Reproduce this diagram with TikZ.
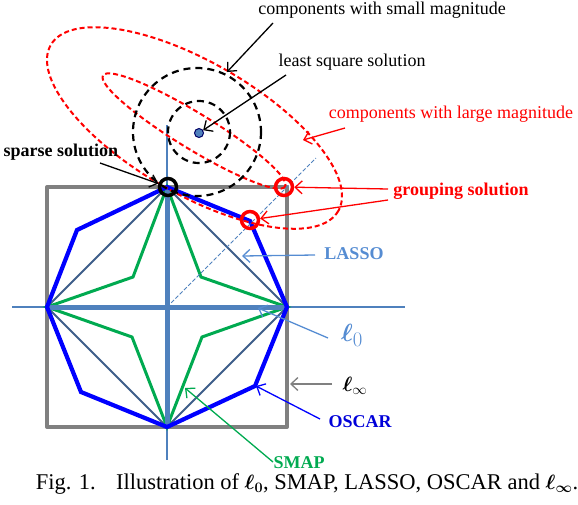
\documentclass[tikz,border=0pt]{standalone}
\usepackage{amsmath}
\usepackage{bm}
\usepackage{fontspec}
\setmainfont{Liberation Serif}
\usetikzlibrary{arrows.meta}
\definecolor{axisblue}{RGB}{79,129,189}
\definecolor{lassoline}{RGB}{62,94,138}
\definecolor{oscarblue}{RGB}{0,0,255}
\definecolor{smapgreen}{RGB}{0,170,80}
\definecolor{sqgray}{RGB}{128,128,128}
\definecolor{lblue}{RGB}{85,140,210}
\begin{document}
\begin{tikzpicture}[x=1pt,y=-1pt,
  arr/.style={-{Straight Barb[length=7pt,width=13pt]}, line width=1.3pt},
  lab/.style={font=\fontsize{18}{20}\selectfont, inner sep=0pt},
  blab/.style={font=\fontsize{18}{20}\selectfont\bfseries, inner sep=0pt},
  bdash/.style={draw=black, line width=2.2pt, dash pattern=on 7pt off 5pt},
  rdash/.style={draw=red, line width=2pt, dash pattern=on 5pt off 3pt},
  ringmark/.style={circle, line width=3.5pt, minimum size=17pt, inner sep=0pt}]
\useasboundingbox (0,0) rectangle (578,504);

% key points
\coordinate (C) at (167,307);
\coordinate (T) at (167,187);
\coordinate (B) at (167,427);
\coordinate (L) at (47,307);
\coordinate (R) at (287,307);

% l_infinity square
\draw[sqgray, line width=4pt, line join=round] (47,187) rectangle (287,427);

% thin axes
\draw[axisblue, line width=1.5pt] (12,307) -- (405,307);
\draw[axisblue, line width=1.5pt] (167,125) -- (167,460);

% LASSO diamond
\draw[lassoline, line width=2pt, line join=round] (T) -- (R) -- (B) -- (L) -- cycle;

% SMAP star
\draw[smapgreen, line width=3pt, line join=miter]
  (T) -- (201,277) -- (R) -- (202,337) -- (B) -- (132,337) -- (L) -- (133,277) -- cycle;

% l0 thick cross
\draw[axisblue, line width=5pt] (L) -- (R);
\draw[axisblue, line width=5pt] (T) -- (B);

% OSCAR octagon
\draw[oscarblue, line width=4.2pt, line join=miter]
  (T) -- (250,221) -- (R) -- (255,386) -- (B) -- (81,392) -- (L) -- (77,230) -- cycle;

% diagonal dashed line
\draw[axisblue, line width=1pt, dash pattern=on 4pt off 2pt] (C) -- (316,158);

% red ellipses
\draw[rdash, rotate around={-30:(194.5,128)}] (194.5,128) ellipse [x radius=166, y radius=66];
\draw[rdash, rotate around={-31.4:(194,131)}] (194,131) ellipse [x radius=106.6, y radius=18];

% black dashed circles
\draw[bdash] (197,132) circle [radius=64];
\draw[bdash] (199,132) circle [radius=31];

% markers
\node[circle, fill=axisblue, draw=black!60!blue, line width=1pt, minimum size=9pt, inner sep=0pt] (lss) at (199,133) {};
\node[ringmark, draw=black] (sps) at (168,187) {};
\node[ringmark, draw=red] (gs1) at (284,187) {};
\node[ringmark, draw=red] (gs2) at (250,220) {};

% labels
\node[lab] (csm) at (382,10) {components with small magnitude};
\node[lab] (lsq) at (352,62) {least square solution};
\node[lab, text=red] (clm) at (451,114) {components with large magnitude};
\node[blab] (spl) at (61,152) {sparse solution};
\node[blab, text=red] (gsl) at (461,191) {grouping solution};
\node[blab, text=lblue] (las) at (354,254) {LASSO};
\node[inner sep=0pt, text=lblue, font=\fontsize{28}{30}\selectfont] (lz) at (352,335) {$\bm{\ell}_{0}$};
\node[inner sep=0pt, font=\fontsize{22}{24}\selectfont] (linf) at (355,386) {$\bm{\ell}_{\infty}$};
\node[blab, text=oscarblue!85!black] (osc) at (360,422) {OSCAR};
\node[blab, text=smapgreen] (smp) at (299,463) {SMAP};
\node[inner sep=0pt, font=\fontsize{22.5}{25}\selectfont] (cap) at (307,484)
  {Fig. 1.\hspace{0.9em}Illustration of $\bm{\ell_0}$, SMAP, LASSO, OSCAR and $\bm{\ell_\infty}$.};

% arrow ends
\coordinate (t1) at (273,23);  \coordinate (bigc) at (227,72);
\coordinate (t2) at (286,75);
\coordinate (t3) at (345,128); \coordinate (oute) at (303,140);
\coordinate (t4) at (100,163);
\coordinate (t5a) at (388,189);
\coordinate (t5b) at (388,200);
\coordinate (t6) at (315,255); \coordinate (lassop) at (242,256);
\coordinate (t7) at (328,338); \coordinate (l0p) at (258,308);
\coordinate (t8) at (332,384); \coordinate (linfp) at (290,384);
\coordinate (t9) at (320,419); \coordinate (oscp) at (256,386);
\coordinate (t10) at (273,462); \coordinate (smapp) at (185,388);

% arrows
\draw[arr] (t1) -- (bigc);
\draw[arr] (t2) -- (lss);
\draw[arr, red] (t3) -- (oute);
\draw[arr] (t4) -- (sps);
\draw[arr, red] (t5a) -- (gs1);
\draw[arr, red] (t5b) -- (gs2);
\draw[arr, lblue] (t6) -- (lassop);
\draw[arr, lblue] (t7) -- (l0p);
\draw[arr, sqgray] (t8) -- (linfp);
\draw[arr, oscarblue] (t9) -- (oscp);
\draw[arr, smapgreen] (t10) -- (smapp);
\end{tikzpicture}
\end{document}
